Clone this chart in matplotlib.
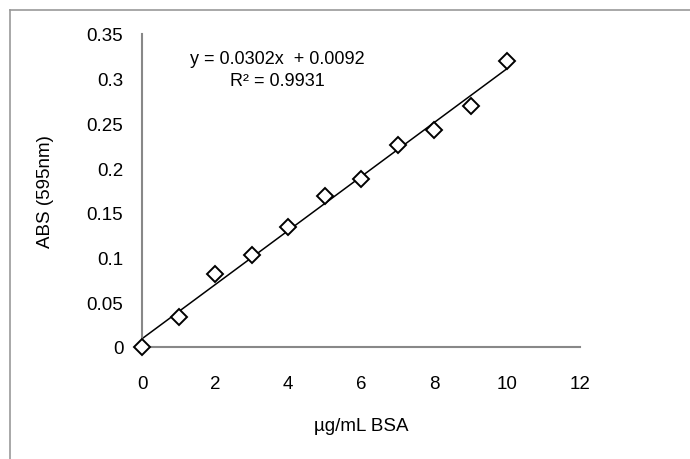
import matplotlib
matplotlib.use('Agg')
import matplotlib.pyplot as plt
from matplotlib.lines import Line2D
import numpy as np

plt.rcParams['font.family'] = ['Liberation Sans', 'DejaVu Sans']

# BSA standard curve
conc = [0, 1, 2, 3, 4, 5, 6, 7, 8, 9, 10]
absorb = [0.0, 0.033, 0.082, 0.103, 0.134, 0.169, 0.188, 0.226, 0.243, 0.269, 0.320]
slope = 0.0302
intercept = 0.0092
r2 = 0.9931

x_ticks = [0, 2, 4, 6, 8, 10, 12]
y_ticks = [0, 0.05, 0.1, 0.15, 0.2, 0.25, 0.3, 0.35]
y_labels = ['0', '0.05', '0.1', '0.15', '0.2', '0.25', '0.3', '0.35']

fig = plt.figure(figsize=(6.9, 4.6), dpi=100)
ax = fig.add_axes([142 / 690, 0.2435, 438 / 690, 0.6805])

# trendline
xs = np.array([conc[0], conc[-1]])
ax.plot(xs, slope * xs + intercept, color='black', lw=1.1, zorder=2)
ax.plot(conc, absorb, linestyle='none', marker='D', markersize=7.8,
        markerfacecolor='white', markeredgecolor='black', markeredgewidth=1.4,
        zorder=3, clip_on=False)

ax.set_xlim(0, 12)
ax.set_ylim(0, 0.35)
ax.set_xticks(x_ticks)
ax.set_yticks(y_ticks)
ax.set_yticklabels(y_labels)
ax.tick_params(length=0, labelsize=13.5, colors='black')
ax.tick_params(axis='x', pad=20)
ax.tick_params(axis='y', pad=13.5)

for s in ['top', 'right']:
    ax.spines[s].set_visible(False)
for s in ['left', 'bottom']:
    ax.spines[s].set_color('#888888')
    ax.spines[s].set_linewidth(1.5)

ax.set_xlabel('µg/mL BSA', fontsize=13.5)
ax.set_ylabel('ABS (595nm)', fontsize=13.5)
ax.xaxis.set_label_coords(0.5, -0.224)
ax.yaxis.set_label_coords(-0.2, 0.5)

ax.text(3.7, 0.31, 'y = 0.0302x  + 0.0092\nR² = 0.9931', ha='center', va='center',
        fontsize=13, linespacing=1.35)

# chart border (top and left visible)
fig.add_artist(Line2D([10 / 690, 1], [1 - 11 / 460, 1 - 11 / 460], color='#999999', lw=1.2))
fig.add_artist(Line2D([10 / 690, 10 / 690], [0, 1 - 11 / 460], color='#999999', lw=1.2))

fig.savefig('out.png', dpi=100)
